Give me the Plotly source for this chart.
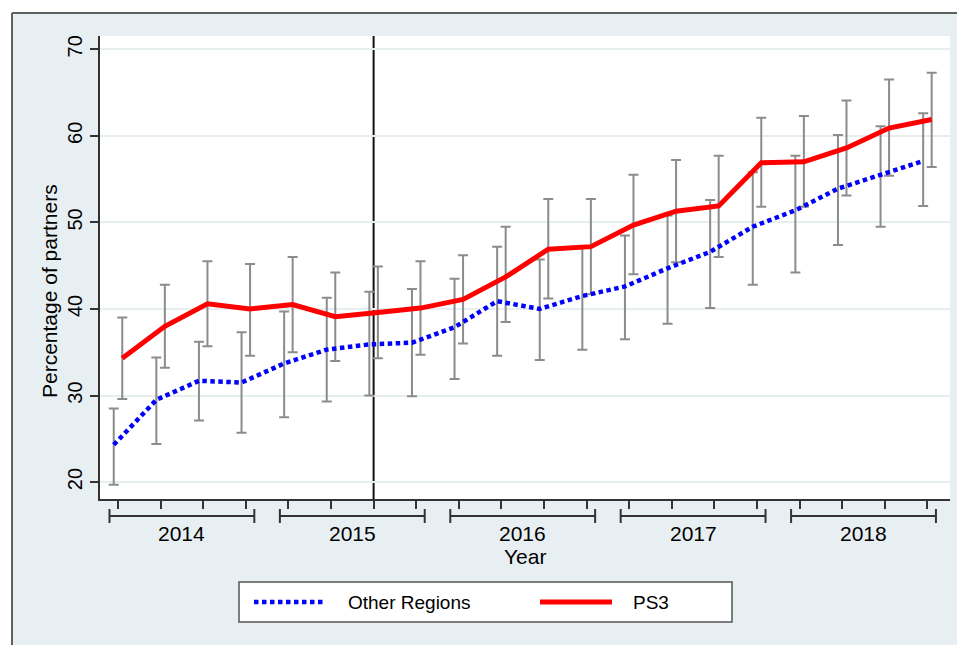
import plotly.graph_objects as go

# Quarterly series, 2014Q1 .. 2018Q4
years = [2014, 2015, 2016, 2017, 2018]
quarter_idx = list(range(20))

other_regions = [24.3, 29.5, 31.7, 31.5, 33.7, 35.3, 35.9, 36.1, 37.9, 40.9,
                 40.0, 41.5, 42.6, 44.7, 46.6, 49.5, 51.4, 53.9, 55.5, 57.1]
other_hi = [28.5, 34.4, 36.2, 37.3, 39.7, 41.3, 42.0, 42.3, 43.5, 47.2,
            45.7, 47.2, 48.5, 50.8, 52.6, 55.8, 57.7, 60.1, 61.1, 62.6]
other_lo = [19.7, 24.4, 27.1, 25.7, 27.5, 29.3, 30.0, 29.9, 31.9, 34.6,
            34.1, 35.3, 36.5, 38.3, 40.1, 42.8, 44.2, 47.4, 49.5, 51.9]

ps3 = [34.3, 38.0, 40.6, 40.0, 40.5, 39.1, 39.6, 40.1, 41.1, 43.7,
       46.9, 47.2, 49.7, 51.3, 51.9, 56.9, 57.0, 58.6, 60.9, 61.9]
ps3_hi = [39.0, 42.8, 45.5, 45.2, 46.0, 44.2, 44.9, 45.5, 46.2, 49.5,
          52.7, 52.7, 55.5, 57.2, 57.7, 62.1, 62.3, 64.1, 66.5, 67.3]
ps3_lo = [29.6, 33.2, 35.7, 34.6, 35.0, 34.0, 34.3, 34.7, 36.0, 38.5,
          41.2, 41.7, 44.0, 45.4, 46.0, 51.8, 51.8, 53.1, 55.4, 56.4]

y_ticks = [20, 30, 40, 50, 60, 70]
policy_quarter = 6  # 2015Q3

FONT = "Liberation Sans, Arial, Helvetica, sans-serif"
BG = "#e8eff2"
AXIS = "#333333"
CI_COLOR = "#8c8c8c"
BLUE = "#0000ff"
RED = "#ff0000"
BLUE_DASH = "4.5px,3.5px"
OFFSET = 0.1

x_other = [q - OFFSET for q in quarter_idx]
x_ps3 = [q + OFFSET for q in quarter_idx]

fig = go.Figure()


def ci_trace(x, mid, hi, lo):
    return go.Scatter(
        x=x, y=mid, mode="markers", marker=dict(size=1, opacity=0),
        error_y=dict(type="data", symmetric=False,
                     array=[h - m for h, m in zip(hi, mid)],
                     arrayminus=[m - l for m, l in zip(mid, lo)],
                     color=CI_COLOR, thickness=2, width=5),
        showlegend=False, hoverinfo="skip")


fig.add_trace(ci_trace(x_other, other_regions, other_hi, other_lo))
fig.add_trace(ci_trace(x_ps3, ps3, ps3_hi, ps3_lo))

fig.add_trace(go.Scatter(x=x_other, y=other_regions, mode="lines",
                         name="Other Regions",
                         line=dict(color=BLUE, width=4.5, dash=BLUE_DASH),
                         showlegend=False))
fig.add_trace(go.Scatter(x=x_ps3, y=ps3, mode="lines", name="PS3",
                         line=dict(color=RED, width=5), showlegend=False))

# Plot-area pixel geometry (used to express paper coordinates)
W, H = 957, 645
L, R, T, B = 100, 950, 36, 499


def px(xp):
    return (xp - L) / (R - L)


def py(yp):
    return (B - yp) / (B - T)


shapes = []
# policy marker
shapes.append(dict(type="line", xref="x", yref="paper", x0=policy_quarter,
                   x1=policy_quarter, y0=0, y1=1,
                   line=dict(color="#111111", width=2), layer="below"))

# year brackets under the quarter ticks
annotations = []
for k, yr in enumerate(years):
    a, b = 4 * k - 0.2, 4 * k + 3.2
    ym, yc0, yc1 = py(516), py(509), py(523)
    shapes.append(dict(type="line", xref="x", yref="paper", x0=a, x1=b,
                       y0=ym, y1=ym, line=dict(color=AXIS, width=2)))
    for xe in (a, b):
        shapes.append(dict(type="line", xref="x", yref="paper", x0=xe,
                           x1=xe, y0=yc0, y1=yc1,
                           line=dict(color=AXIS, width=2)))
    annotations.append(dict(x=4 * k + 1.5, y=py(533), xref="x", yref="paper",
                            text=str(yr), showarrow=False,
                            font=dict(size=21, color="black", family=FONT),
                            xanchor="center", yanchor="middle"))

# outer frame: white margin strip above/left, then the border lines
shapes.append(dict(type="rect", xref="paper", yref="paper",
                   x0=px(-5), x1=px(W + 5), y0=py(13), y1=py(-5),
                   fillcolor="white", line=dict(width=0), layer="above"))
shapes.append(dict(type="rect", xref="paper", yref="paper",
                   x0=px(-5), x1=px(12), y0=py(H + 5), y1=py(-5),
                   fillcolor="white", line=dict(width=0), layer="above"))
shapes.append(dict(type="line", xref="paper", yref="paper",
                   x0=px(12), x1=px(W + 5), y0=py(13), y1=py(13),
                   line=dict(color="#606060", width=2), layer="above"))
shapes.append(dict(type="line", xref="paper", yref="paper",
                   x0=px(12), x1=px(12), y0=py(13), y1=py(H + 5),
                   line=dict(color="#606060", width=2), layer="above"))

# legend box
shapes.append(dict(type="rect", xref="paper", yref="paper",
                   x0=px(239), x1=px(732), y0=py(622), y1=py(582),
                   fillcolor="white", line=dict(color="#555555", width=1.5)))
shapes.append(dict(type="line", xref="paper", yref="paper",
                   x0=px(254), x1=px(325), y0=py(602), y1=py(602),
                   line=dict(color=BLUE, width=4.5, dash=BLUE_DASH)))
shapes.append(dict(type="line", xref="paper", yref="paper",
                   x0=px(540), x1=px(612), y0=py(602), y1=py(602),
                   line=dict(color=RED, width=5)))
annotations.append(dict(x=px(346), y=py(602), xref="paper", yref="paper",
                        text="Other Regions", showarrow=False,
                        xanchor="left", yanchor="middle",
                        font=dict(size=19, color="black", family=FONT)))
annotations.append(dict(x=px(631), y=py(602), xref="paper", yref="paper",
                        text="PS3", showarrow=False,
                        xanchor="left", yanchor="middle",
                        font=dict(size=19, color="black", family=FONT)))

# axis titles
annotations.append(dict(x=px(49), y=py(291), xref="paper", yref="paper",
                        text="Percentage of partners", showarrow=False,
                        textangle=-90, xanchor="center", yanchor="middle",
                        font=dict(size=21, color="black", family=FONT)))
annotations.append(dict(x=px(525), y=py(556), xref="paper", yref="paper",
                        text="Year", showarrow=False,
                        xanchor="center", yanchor="middle",
                        font=dict(size=21, color="black", family=FONT)))

fig.update_layout(
    width=W, height=H,
    margin=dict(l=L, r=W - R, t=T, b=H - B, autoexpand=False),
    paper_bgcolor=BG, plot_bgcolor="white",
    font=dict(family=FONT, color="black"),
    shapes=shapes, annotations=annotations, showlegend=False,
)

fig.update_xaxes(
    range=[-0.4225, 19.53], tickmode="array", tickvals=quarter_idx,
    ticktext=[""] * len(quarter_idx), ticks="outside", ticklen=8,
    tickwidth=1.5, tickcolor=AXIS, showline=True, linecolor=AXIS,
    linewidth=1.5, showgrid=False, zeroline=False, automargin=False,
)
fig.update_yaxes(
    range=[18.04, 71.54], tickmode="array", tickvals=y_ticks,
    ticktext=[str(v) for v in y_ticks], tickangle=-90,
    ticks="outside", ticklen=8, tickwidth=1.5, tickcolor=AXIS,
    showline=True, linecolor=AXIS, linewidth=1.5,
    showgrid=True, gridcolor="#e6eef0", gridwidth=1.5, zeroline=False,
    tickfont=dict(size=20, color="black", family=FONT), automargin=False,
)

fig.write_html("out.html")
